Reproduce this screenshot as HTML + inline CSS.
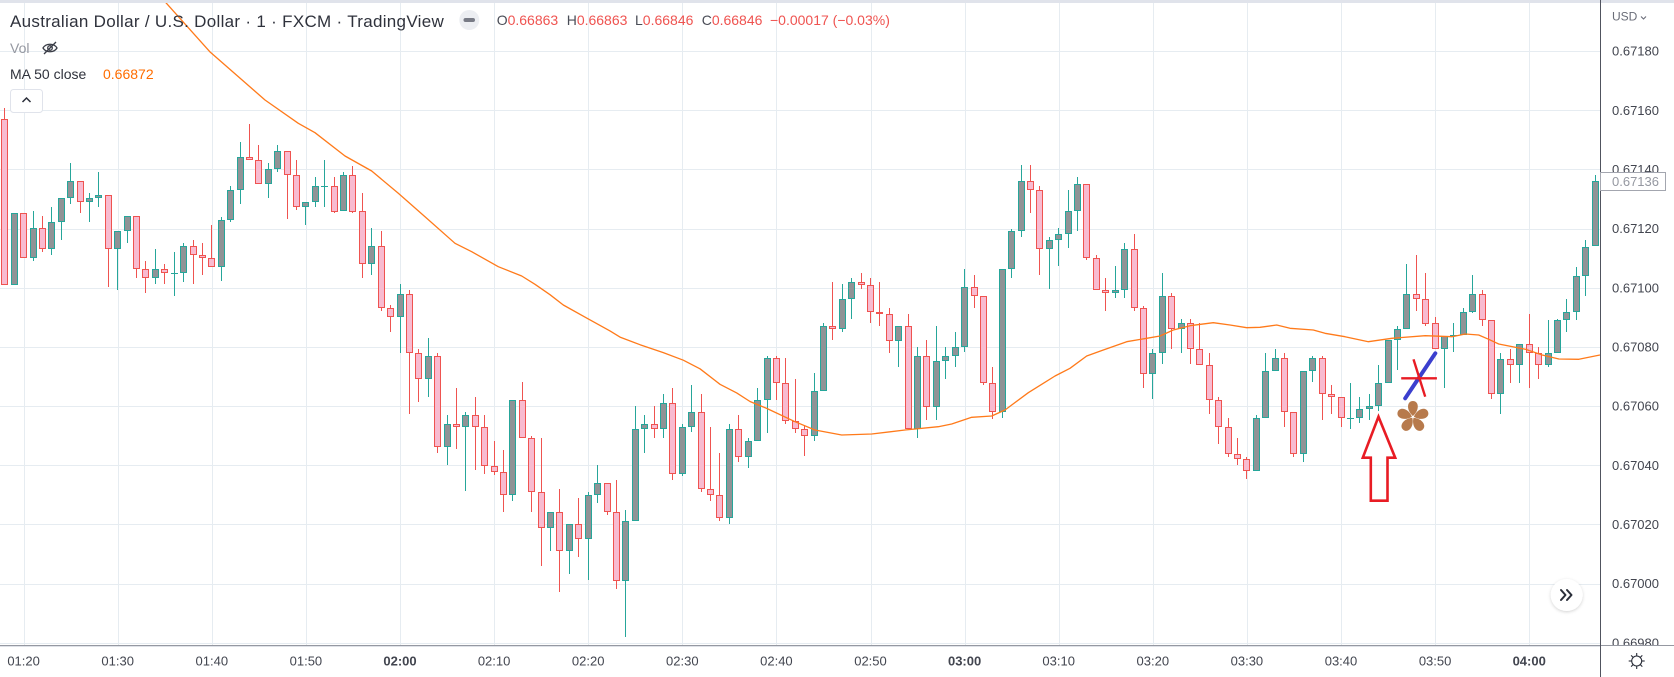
<!DOCTYPE html>
<html><head><meta charset="utf-8">
<style>
html,body{margin:0;padding:0;background:#fff;}
#wrap{position:relative;width:1674px;height:677px;overflow:hidden;background:#fff;font-family:"Liberation Sans",sans-serif;}
svg{position:absolute;left:0;top:0;}
</style></head>
<body><div id="wrap">
<svg id="chart" width="1674" height="677" viewBox="0 0 1674 677" xmlns="http://www.w3.org/2000/svg">
<defs>
<clipPath id="plot"><rect x="0" y="0" width="1600" height="645"/></clipPath>
<clipPath id="pax"><rect x="1600" y="0" width="74" height="645"/></clipPath>
<filter id="sh" x="-50%" y="-50%" width="200%" height="200%"><feDropShadow dx="0" dy="1" stdDeviation="1.5" flood-color="#000" flood-opacity="0.18"/></filter>
</defs>
<rect x="0" y="0" width="1674" height="677" fill="#fff"/>
<g id="grid" stroke="#e6ecf1" stroke-width="1"></g>
<g id="candles" clip-path="url(#plot)"></g>
<polyline clip-path="url(#plot)" fill="none" stroke="#ff7a1a" stroke-width="1.3" stroke-linejoin="round" points="163,0 165,1.7 209.8,51.7 265,100 298.3,123.3 315,132.7 345,156 371.7,171 398.3,193.3 425,216.7 455,243.3 471.7,251.7 498.3,266.7 521.7,276 535,284.3 550,294.7 563.3,305 586.7,318.1 610,330.9 620,337.1 640,344.7 663.3,352.6 683.3,360.2 700,368.8 720,384.3 736.7,392.9 750,401.5 766.7,408.4 795,421.7 815,430 841.7,435 871.7,434 905,430 938.3,426.7 951.7,424 971.7,417.3 991.7,416 1005,410 1028.3,392.7 1055,376 1070,368.3 1086.7,356 1103.3,350 1126.7,341.7 1146.7,338.3 1160,336 1173.3,330 1190,325.7 1213.3,322.7 1230,325 1246.7,327.7 1260,327.3 1276.7,325 1290,328.3 1313.3,330 1325,333.3 1345,336.7 1368.4,341.7 1391.8,338.3 1425.2,335.7 1452,336.7 1465.3,334 1478.7,335 1488.7,339.3 1498.7,344 1525.5,349.3 1542.2,355 1558.9,359 1578.9,359.3 1600,355"/>

<!-- annotations -->
<polygon points="1378.5,416.7 1395.2,457.7 1387.5,457.7 1387.5,500.7 1370.8,500.7 1370.8,457.7 1362.8,457.7" fill="none" stroke="#e81c24" stroke-width="2.6" stroke-linejoin="miter"/>
<line x1="1405.2" y1="398.3" x2="1435.3" y2="353.3" stroke="#3b3fce" stroke-width="4" stroke-linecap="round"/>
<line x1="1401.2" y1="378.3" x2="1436.9" y2="378.3" stroke="#e81c24" stroke-width="2.4"/>
<line x1="1413.5" y1="359.3" x2="1425.2" y2="396.7" stroke="#e81c24" stroke-width="2.4"/>
<g transform="translate(1412.9,417)" fill="#b77a4c">
<path d="M0,-1 C-7,-7 -6,-16 0,-16 C6,-16 7,-7 0,-1Z"/>
<path transform="rotate(72)" d="M0,-1 C-7,-7 -6,-16 0,-16 C6,-16 7,-7 0,-1Z"/>
<path transform="rotate(144)" d="M0,-1 C-7,-7 -6,-16 0,-16 C6,-16 7,-7 0,-1Z"/>
<path transform="rotate(216)" d="M0,-1 C-7,-7 -6,-16 0,-16 C6,-16 7,-7 0,-1Z"/>
<path transform="rotate(288)" d="M0,-1 C-7,-7 -6,-16 0,-16 C6,-16 7,-7 0,-1Z"/>
</g>

<!-- top band -->
<rect x="0" y="0" width="1674" height="3" fill="#e0e3eb"/>

<!-- axes -->
<rect x="0" y="645" width="1674" height="32" fill="#fff"/>
<line x1="0" y1="645.5" x2="1674" y2="645.5" stroke="#9598a1" stroke-width="1"/>
<line x1="0" y1="646.5" x2="1600" y2="646.5" stroke="#dfe2e8" stroke-width="1"/>
<line x1="1600.5" y1="0" x2="1600.5" y2="677" stroke="#50535e" stroke-width="1"/>

<g id="plabels" clip-path="url(#pax)" font-family="Liberation Sans, sans-serif" font-size="13" fill="#42454f"></g>
<g id="tlabels" font-family="Liberation Sans, sans-serif" font-size="13" fill="#42454f" text-anchor="middle"></g>

<!-- last price tag -->
<rect x="1600.5" y="172.5" width="65" height="18" fill="#fff" stroke="#a3a6af" stroke-width="1"/>
<text x="1612" y="186" font-family="Liberation Sans, sans-serif" font-size="13" fill="#9598a1">0.67136</text>

<!-- USD -->
<text x="1612" y="20.5" font-family="Liberation Sans, sans-serif" font-size="12" fill="#6a6d78">USD</text>
<polyline points="1641,16.5 1643.5,19 1646,16.5" fill="none" stroke="#6a6d78" stroke-width="1.1"/>

<!-- gear -->
<g transform="translate(1636.7,661)" stroke="#2a2e39" stroke-width="1.1" fill="none">
<circle r="5"/>
<line x1="0" y1="-5" x2="0" y2="-8"/><line x1="0" y1="5" x2="0" y2="8"/>
<line x1="-5" y1="0" x2="-8" y2="0"/><line x1="5" y1="0" x2="8" y2="0"/>
<line x1="3.5" y1="3.5" x2="5.6" y2="5.6"/><line x1="-3.5" y1="-3.5" x2="-5.6" y2="-5.6"/>
<line x1="3.5" y1="-3.5" x2="5.6" y2="-5.6"/><line x1="-3.5" y1="3.5" x2="-5.6" y2="5.6"/>
</g>

<!-- scroll button -->
<circle cx="1566.7" cy="595" r="16" fill="#fff" filter="url(#sh)"/>
<g fill="none" stroke="#2a2e39" stroke-width="2" stroke-linecap="round" stroke-linejoin="round">
<polyline points="1561,590 1565.5,595 1561,600"/>
<polyline points="1567,590 1571.5,595 1567,600"/>
</g>

<!-- header -->
<text x="10" y="27" font-family="Liberation Sans, sans-serif" font-size="17" letter-spacing="0.3" fill="#2f323c">Australian Dollar / U.S. Dollar · 1 · FXCM · TradingView</text>
<circle cx="469.3" cy="20" r="10" fill="#eceef2"/>
<rect x="463.5" y="18" width="11.5" height="4" rx="2" fill="#787b86"/>
<g font-family="Liberation Sans, sans-serif" font-size="14">
<text x="496.7" y="25"><tspan fill="#4a4d57">O</tspan><tspan fill="#ef5350">0.66863</tspan></text>
<text x="566.7" y="25"><tspan fill="#4a4d57">H</tspan><tspan fill="#ef5350">0.66863</tspan></text>
<text x="635" y="25"><tspan fill="#4a4d57">L</tspan><tspan fill="#ef5350">0.66846</tspan></text>
<text x="701.7" y="25"><tspan fill="#4a4d57">C</tspan><tspan fill="#ef5350">0.66846</tspan></text>
<text x="770" y="25" fill="#ef5350">−0.00017 (−0.03%)</text>
<text x="10" y="53" fill="#9598a1">Vol</text>
<text x="10" y="79" fill="#2f323c">MA 50 close</text>
<text x="103" y="79" fill="#ff6d00">0.66872</text>
</g>
<!-- eye crossed -->
<g transform="translate(50,48)" fill="none" stroke="#3a3d47" stroke-width="1.3">
<path d="M-7,0 C-4,-5 4,-5 7,0 C4,5 -4,5 -7,0Z"/>
<circle r="2.3"/>
<line x1="-6" y1="6" x2="6" y2="-6"/>
</g>
<!-- collapse button -->
<rect x="10.5" y="89.5" width="32" height="23" rx="3" fill="#fff" stroke="#e0e3eb"/>
<polyline points="22.5,102 26.5,98 30.5,102" fill="none" stroke="#2a2e39" stroke-width="1.5"/>
</svg>
<script>
(function(){
var NS="http://www.w3.org/2000/svg";
var D=[[119,108,285,285],[285,213,285,213],[213,213,258,258],[258,211,261,228],[228,216,252,249],[249,207,255,222],[222,198,240,198],[198,163,204,181],[181,181,213,202],[202,193,222,198],
[198,172,207,195],[195,195,287,249],[249,231,290,231],[231,216,243,216],[216,216,278,269],[269,261,293,278],[278,249,284,269],[269,264,284,273],[273.3,252,296,273.3],[273,243,282,246],
[246,240,284,255],[255,243,275,258],[258,225,267,267],[267,217,281,220],[220,186,222,190],[190,142,204,157],[157,124,160,160],[160,145,184,184],[184,163,198,169],[169,145,172,151],
[151,151,219,175],[175,160,210,207],[207,202,225,202],[202,177,207,186],[186.3,160,207,186.3],[186,177,213,212],[211,172,211,175],[175,166,213,212],[211,193,278,264],[264,228,275,246],
[246,231,311,308],[308,305,332,317],[317,284,353,294],[294,290,414,353],[353,349,402,379],[379,338,397,356],[356,353,453,447],[447,415,465,424],[424,388,449,427],[427,412,491,415],
[415,397,470,427],[427,415,474,466],[466,441,475,472],[472,450,512,495],[495,400,501,400],[400,382,438,438],[438,436,512,492],[492,438,566,528],[528,512,551,512],[512,489,592,551],
[551,524,574,524],[524,498,557,539],[539,492,580,495],[495,465,503,483],[483,483,515,512],[512,480,589,581],[581,510,637,521],[521,406,521,429],[429,415,453,424],[424,406,438,429],
[429,394,438,403],[403,388,480,474],[474,424,476,427],[427,385,432,412],[412,394,492,489],[489,427,501,495],[495,453,521,518],[518,424,524,429],[429,415,462,457],[457,438,468,441],
[441,388,441,400],[400,356,433,358],[358,356,400,383],[383,358,424,421],[421,379,433,429],[429,425,456,436],[436,373,441,391],[391,323,391,326],[326,282,340,329],[329,284,332,299],
[299,278,319,282],[282,273,289,285],[285,278,323,312],[312,282,326,314],[314,308,353,341],[341,326,367,326],[326,314,429,429],[429,347,438,356],[356,340,420,407],[407,326,420,361],
[361,347,379,356],[356,332,367,347],[347,269,352,287],[287,275,308,296],[296,296,385,383],[383,367,419,412],[412,269,418,269],[269,229,278,231],[231,165,237,181],[181,165,213,190],
[190,186,275,249],[249,237,289,240],[240,228,266,234],[234,190,248,211],[211,177,231,184],[184,184,260,258],[258,255,290,290],[290,278,311,293],[293,266,298,290],[290,243,298,249],
[249,234,311,308],[308,306,388,374],[374,349,399,353],[353,273,364,296],[296,293,349,329],[329,319,353,323],[323,319,364,349],[349,323,365,365],[365,353,414,400],[400,397,444,427],
[427,418,457,454],[454,438,465,459],[459,457,479,471],[471,415,471,418],[418,353,418,371],[371,349,371,358],[358,353,427,412],[412,412,457,454],[454,371,462,371],[371,356,382,358],
[358,356,420,394],[394,385,414,397],[397,397,427,418],[418.3,383,429,418.3],[418,397,423,409],[409,394,420,406],[406,365,411,383],[383,340,383,340],[340,326,370,329],[329,264,329,294],
[294,255,311,299],[299,273,326,324],[323,317,349,349],[349,336,388,336],[335,323,352,335],[335,308,335,312],[312,275,313,294],[294,290,326,320],[320,320,399,394],[394,353,414,359],
[359,349,383,365],[365,344,383,344],[344,314,388,353],[353,347,379,365],[365,320,367,353],[353,319,353,320],[320,299,332,312],[312,267,320,276],[276,240,296,247],[246,175,246,181]];
var doji={18:1,34:1,143:1,154:1};
var s="";
for(var i=0;i<D.length;i++){
 var o=D[i][0],h=D[i][1],l=D[i][2],c=D[i][3];
 var cx=4.8+9.41*i, x0=Math.round(cx-3.5);
 var bull=(c<o)||doji[i];
 var st=bull?"#26a69a":"#ef5350", fl=bull?"#909396":"#f8bbd0";
 var wx=x0+3.5;
 s+='<line x1="'+wx+'" x2="'+wx+'" y1="'+h+'" y2="'+l+'" stroke="'+st+'" stroke-width="1"/>';
 var t=Math.round(Math.min(o,c)), b=Math.round(Math.max(o,c));
 if(b-t<2){ s+='<line x1="'+x0+'" x2="'+(x0+7)+'" y1="'+(t+0.5)+'" y2="'+(t+0.5)+'" stroke="'+st+'" stroke-width="1"/>'; }
 else { s+='<rect x="'+(x0+0.5)+'" y="'+(t+0.5)+'" width="6" height="'+(b-t-1)+'" fill="'+fl+'" stroke="'+st+'" stroke-width="1"/>'; }
}
document.getElementById("candles").innerHTML=s;
var g="";
for(var k=0;k<=10;k++){var y=Math.round(51+k*59.17)+0.5; g+='<line x1="0" x2="1600" y1="'+y+'" y2="'+y+'"/>';}
for(var m=0;m<=16;m++){var x=Math.round(23.6+94.1*m)+0.5; g+='<line x1="'+x+'" x2="'+x+'" y1="0" y2="645"/>';}
document.getElementById("grid").innerHTML=g;
var p="",pv=["0.67180","0.67160","0.67140","0.67120","0.67100","0.67080","0.67060","0.67040","0.67020","0.67000","0.66980"];
for(var k=0;k<pv.length;k++){var y=51+k*59.17+4.6; p+='<text x="1612" y="'+y.toFixed(1)+'">'+pv[k]+'</text>';}
document.getElementById("plabels").innerHTML=p;
var tl=["01:20","01:30","01:40","01:50","02:00","02:10","02:20","02:30","02:40","02:50","03:00","03:10","03:20","03:30","03:40","03:50","04:00"];
var bold={"02:00":1,"03:00":1,"04:00":1};
var q="";
for(var m=0;m<tl.length;m++){var x=23.6+94.1*m; q+='<text x="'+x.toFixed(1)+'" y="665.5"'+(bold[tl[m]]?' font-weight="bold"':'')+'>'+tl[m]+'</text>';}
document.getElementById("tlabels").innerHTML=q;
})();
</script>
</div></body></html>
